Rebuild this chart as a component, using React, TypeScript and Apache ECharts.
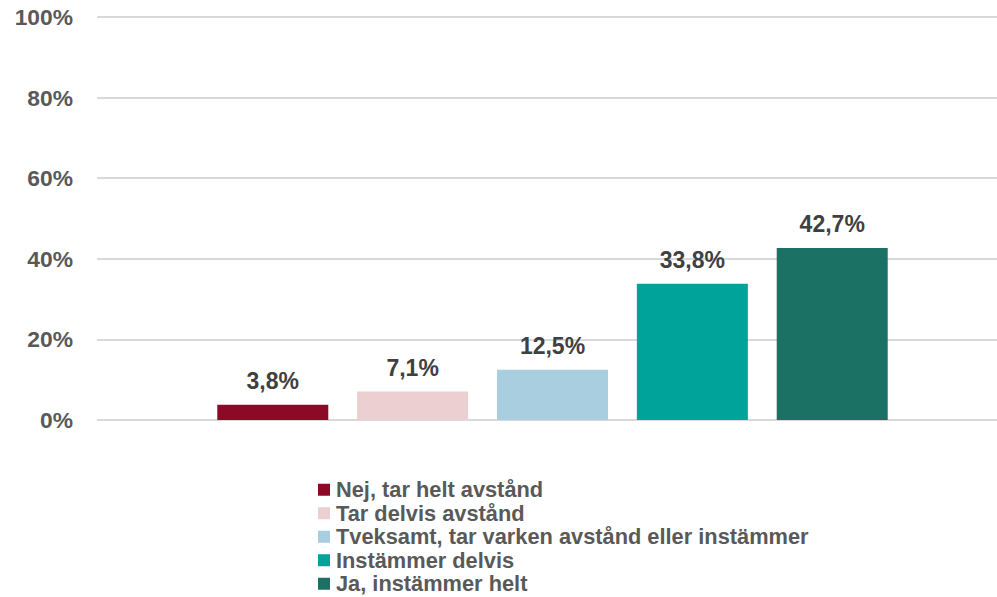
import React, { useEffect, useRef } from "react";
import * as echarts from "echarts";

const categories = [""];
const seriesNames = [
  "Nej, tar helt avstånd",
  "Tar delvis avstånd",
  "Tveksamt, tar varken avstånd eller instämmer",
  "Instämmer delvis",
  "Ja, instämmer helt",
];
const seriesValues = [3.8, 7.1, 12.5, 33.8, 42.7];
const seriesColors = ["#8C0A25", "#EBCFD1", "#A9CEE0", "#00A39A", "#1C7165"];
const yTicks = [0, 20, 40, 60, 80, 100];

const FONT = "'Liberation Sans', Arial, sans-serif";

export default function App() {
  const ref = useRef<HTMLDivElement>(null);
  useEffect(() => {
    if (!ref.current) return;
    const chart = echarts.init(ref.current, null, { renderer: "svg" });
    chart.setOption({
      animation: false,
      textStyle: { fontFamily: FONT },
      grid: { left: 97, right: 0, top: 17, height: 403 },
      legend: {
        orient: "vertical",
        left: 318,
        top: 478,
        padding: 0,
        itemWidth: 12,
        itemHeight: 12,
        itemGap: 0,
        icon: "rect",
        data: seriesNames,
        textStyle: {
          fontFamily: FONT,
          fontSize: 21.8,
          fontWeight: "bold",
          color: "#595959",
          lineHeight: 23.5,
          padding: [0, 0, 0, 1],
        },
      },
      xAxis: {
        type: "category",
        data: categories,
        axisLine: { show: false },
        axisTick: { show: false },
        axisLabel: { show: false },
      },
      yAxis: {
        type: "value",
        min: yTicks[0],
        max: yTicks[yTicks.length - 1],
        interval: 20,
        axisLine: { show: false },
        axisTick: { show: false },
        splitLine: { lineStyle: { color: "#D9D9D9", width: 2 } },
        axisLabel: {
          margin: 24,
          fontFamily: FONT,
          fontSize: 22.8,
          fontWeight: "bold",
          color: "#595959",
          formatter: (v: number) => v + "%",
        },
      },
      series: seriesNames.map((name, i) => ({
        name,
        type: "bar",
        data: [seriesValues[i]],
        barWidth: 111,
        barGap: "26%",
        itemStyle: { color: seriesColors[i] },
        label: {
          show: true,
          position: "top",
          distance: 12,
          fontFamily: FONT,
          fontSize: 23,
          fontWeight: "bold",
          color: "#404040",
          formatter: (p: any) => p.value.toFixed(1).replace(".", ",") + "%",
        },
      })),
    });
    return () => chart.dispose();
  }, []);
  return (
    <div
      style={{
        position: "absolute",
        left: 0,
        top: 0,
        width: 997,
        height: 597,
        overflow: "hidden",
      }}
    >
      <div ref={ref} style={{ width: 1008, height: 597 }} />
    </div>
  );
}
